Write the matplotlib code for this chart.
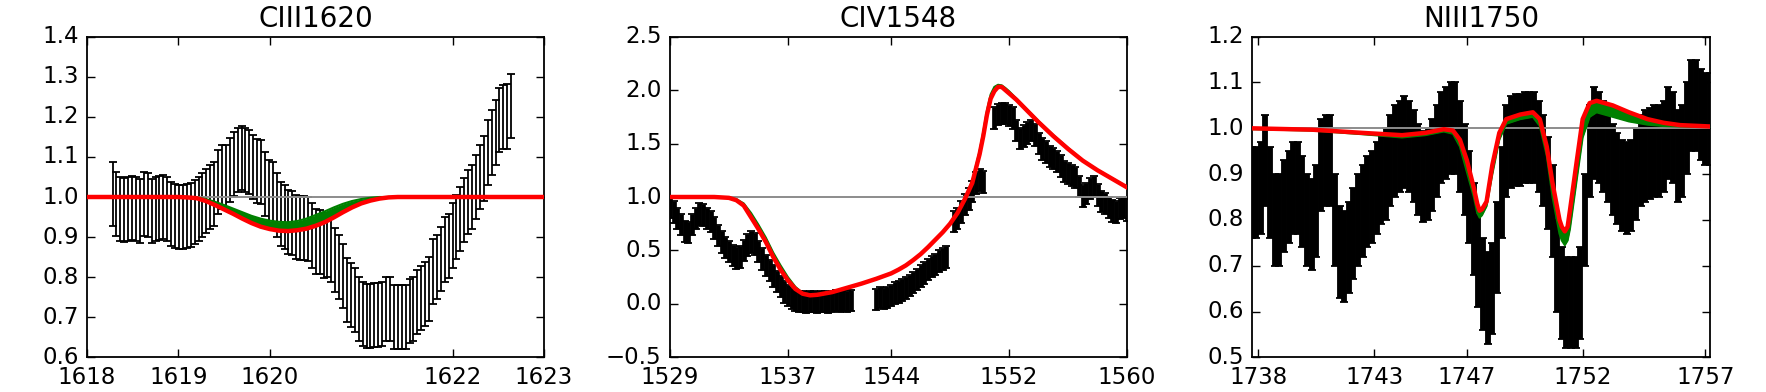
import numpy as np
import matplotlib
matplotlib.use('Agg')
import matplotlib.pyplot as plt
from matplotlib.ticker import MultipleLocator

plt.style.use('classic')
plt.rcParams['font.family'] = ['DejaVu Sans']
plt.rcParams['savefig.facecolor'] = 'white'
plt.rcParams['figure.facecolor'] = 'white'

nan = np.nan

# ---- CIII 1620 ----
ciii_start, ciii_step = 1618.28, 0.04275
ciii_flux = [1.008, 0.983, 0.969, 0.967, 0.969, 0.972, 0.970, 0.964, 0.983, 0.979,
             0.964, 0.969, 0.972, 0.975, 0.969, 0.958, 0.952, 0.950, 0.950, 0.952,
             0.955, 0.963, 0.970, 0.980, 0.989, 1.000, 1.008, 1.037, 1.050, 1.050,
             1.067, 1.083, 1.092, 1.098, 1.092, 1.088, 1.075, 1.065, 1.063, 1.033,
             1.013, 1.008, 0.979, 0.958, 0.950, 0.937, 0.936, 0.925, 0.923, 0.923,
             0.920, 0.904, 0.889, 0.888, 0.879, 0.880, 0.867, 0.842, 0.825, 0.802,
             0.767, 0.756, 0.744, 0.720, 0.708, 0.704, 0.704, 0.705, 0.705, 0.708,
             0.720, 0.720, 0.700, 0.700, 0.701, 0.700, 0.715, 0.720, 0.737, 0.747,
             0.758, 0.770, 0.814, 0.825, 0.846, 0.869, 0.877, 0.904, 0.925, 0.946,
             0.967, 0.988, 1.000, 1.025, 1.050, 1.071, 1.111, 1.136, 1.161, 1.192,
             1.200, 1.201, 1.228]
ciii_err = 0.08
ciii_mx = [1618.0, 1619.0, 1619.1, 1619.2, 1619.3, 1619.4, 1619.5, 1619.6, 1619.7, 1619.8,
           1619.9, 1620.0, 1620.1, 1620.2, 1620.3, 1620.4, 1620.5, 1620.6, 1620.7, 1620.8,
           1620.9, 1621.0, 1621.1, 1621.2, 1621.3, 1621.4, 1623.0]
ciii_red = [1.0, 1.0, 0.999, 0.997, 0.99, 0.98, 0.969, 0.958, 0.946, 0.935,
            0.926, 0.92, 0.916, 0.915, 0.917, 0.921, 0.928, 0.937, 0.949, 0.962,
            0.974, 0.984, 0.991, 0.996, 0.999, 1.0, 1.0]
ciii_green_hi = [1.0, 1.0, 1.0, 0.999, 0.995, 0.988, 0.980, 0.971, 0.962, 0.953,
                 0.946, 0.941, 0.938, 0.937, 0.940, 0.946, 0.955, 0.964, 0.974, 0.983,
                 0.990, 0.995, 0.998, 1.0, 1.0, 1.0, 1.0]

# ---- CIV 1548 ----
civ_start, civ_step = 1529.0, 0.25
civ_flux = [0.90, 0.86, 0.80, 0.74, 0.68, 0.67, 0.74, 0.80, 0.84, 0.83,
            0.80, 0.77, 0.71, 0.64, 0.58, 0.53, 0.49, 0.45, 0.43, 0.44,
            0.50, 0.55, 0.58, 0.56, 0.49, 0.42, 0.36, 0.31, 0.26, 0.21,
            0.16, 0.11, 0.08, 0.05, 0.03, 0.02, 0.02, 0.01, 0.02, 0.02,
            0.01, 0.02, 0.02, 0.01, 0.02, 0.03, 0.02, 0.03, 0.02, 0.03,
            nan, nan, nan, nan, nan, nan,
            0.04, 0.06, 0.05, 0.06, 0.08, 0.10, 0.11, 0.13, 0.15, 0.17,
            0.20, 0.23, 0.26, 0.29, 0.32, 0.35, 0.37, 0.40, 0.42, 0.44,
            nan,
            0.77, 0.80, 0.86, 0.93, 0.98, 1.05, 1.13, 1.16, 1.14,
            nan, nan,
            1.74, 1.77, 1.78, 1.78, 1.76, 1.74, 1.62, 1.55, 1.57, 1.60,
            1.62, 1.58, 1.50, 1.45, 1.42, 1.38, 1.36, 1.33, 1.29, 1.24,
            1.22, 1.20, 1.18, 1.10, 1.01, 1.03, 1.08, 1.10, 1.02, 0.96,
            0.94, 0.90, 0.87, 0.86, 0.89, 0.90, 0.88]
civ_err = 0.1
civ_mx = [1529.0, 1532.0, 1533.0, 1533.5, 1534.0, 1534.5, 1535.0, 1535.5, 1536.0, 1536.5,
          1537.0, 1537.5, 1538.0, 1538.5, 1539.0, 1540.0, 1541.0, 1542.0, 1543.0, 1544.0,
          1544.5, 1545.0, 1545.5, 1546.0, 1546.5, 1547.0, 1547.5, 1548.0, 1548.5, 1549.0,
          1549.5, 1550.0, 1550.25, 1550.5, 1550.75, 1551.0, 1551.25, 1551.5, 1551.75, 1552.0,
          1552.5, 1553.0, 1554.0, 1555.0, 1556.0, 1557.0, 1558.0, 1559.0, 1560.0]
civ_red = [1.0, 1.0, 0.992, 0.97, 0.92, 0.81, 0.70, 0.58, 0.44, 0.32,
           0.22, 0.14, 0.095, 0.08, 0.085, 0.11, 0.15, 0.19, 0.235, 0.285,
           0.32, 0.36, 0.41, 0.465, 0.53, 0.60, 0.67, 0.75, 0.85, 0.98,
           1.13, 1.40, 1.57, 1.77, 1.92, 1.99, 2.03, 2.03, 2.0, 1.97,
           1.91, 1.84, 1.70, 1.57, 1.45, 1.34, 1.25, 1.17, 1.09]
civ_green_hi = [1.0, 1.0, 0.995, 0.98, 0.94, 0.85, 0.74, 0.62, 0.48, 0.36,
                0.25, 0.16, 0.10, 0.085, 0.088, 0.112, 0.152, 0.19, 0.235, 0.285,
                0.32, 0.36, 0.41, 0.465, 0.53, 0.60, 0.67, 0.755, 0.86, 0.99,
                1.15, 1.43, 1.61, 1.81, 1.96, 2.03, 2.05, 2.045, 2.02, 1.99,
                1.92, 1.85, 1.71, 1.58, 1.46, 1.345, 1.255, 1.175, 1.095]

# ---- NIII 1750 ----
niii_start, niii_step = 1737.7, 0.2
niii_flux = [0.86, 0.86, 0.87, 0.93, 0.86, 0.80, 0.80, 0.83, 0.85, 0.87,
             0.87, 0.84, 0.80, 0.79, 0.82, 0.92, 0.93, 0.93, 0.80, 0.73,
             0.72, 0.74, 0.77, 0.80, 0.82, 0.84, 0.85, 0.87, 0.89, 0.90,
             0.93, 0.95, 0.96, 0.97, 0.96, 0.94, 0.91, 0.895, 0.90, 0.92,
             0.95, 0.98, 0.99, 1.00, 1.00, 0.96, 0.91, 0.85, 0.78, 0.71,
             0.66, 0.63, 0.65, 0.74, 0.86, 0.95, 0.97, 0.975, 0.975, 0.98,
             0.98, 0.98, 0.96, 0.93, 0.88, 0.82, 0.70, 0.64, 0.62, 0.62,
             0.62, 0.64, 0.80, 0.95, 0.99, 0.98, 0.96, 0.94, 0.91, 0.89,
             0.875, 0.87, 0.875, 0.90, 0.93, 0.94, 0.945, 0.95, 0.95, 0.96,
             0.99, 0.98, 0.94, 0.95, 1.00, 1.05, 1.05, 1.03, 1.02, 1.02]
niii_err = 0.1
niii_mx = [1737.72, 1740.3, 1742.5, 1744.2, 1745.2, 1746.0, 1746.4, 1746.7, 1747.0, 1747.3,
           1747.45, 1747.55, 1747.65, 1747.85, 1748.1, 1748.4, 1748.7, 1749.3, 1749.85, 1750.15,
           1750.45, 1750.7, 1751.0, 1751.1, 1751.23, 1751.35, 1751.45, 1751.75, 1752.0, 1752.3,
           1752.6, 1753.3, 1754.0, 1754.8, 1755.5, 1756.2, 1757.5]
niii_red = [1.0, 0.997, 0.99, 0.985, 0.99, 0.998, 0.995, 0.975, 0.93, 0.87,
            0.835, 0.82, 0.823, 0.84, 0.92, 0.99, 1.02, 1.03, 1.035, 1.02,
            0.96, 0.88, 0.80, 0.785, 0.775, 0.785, 0.82, 0.93, 1.02, 1.055,
            1.06, 1.05, 1.035, 1.02, 1.012, 1.007, 1.004]
niii_green_lo = [0.998, 0.995, 0.987, 0.98, 0.985, 0.993, 0.988, 0.96, 0.905, 0.85,
                 0.815, 0.805, 0.81, 0.83, 0.90, 0.975, 1.01, 1.02, 1.025, 1.005,
                 0.94, 0.85, 0.77, 0.755, 0.745, 0.755, 0.78, 0.89, 0.98, 1.025,
                 1.035, 1.025, 1.015, 1.008, 1.005, 1.004, 1.003]

panels = [
    dict(title='CIII1620', start=ciii_start, step=ciii_step, flux=ciii_flux, err=ciii_err,
         mx=ciii_mx, red=ciii_red, glo=ciii_red, ghi=ciii_green_hi,
         xlim=(1618, 1623), xticks=[1618, 1619, 1620, 1622, 1623],
         xlabels=['1618', '1619', '1620', '1622', '1623'],
         ylim=(0.6, 1.4), ystep=0.1, elw=1.3, left=87, width=457),
    dict(title='CIV1548', start=civ_start, step=civ_step, flux=civ_flux, err=civ_err,
         mx=civ_mx, red=civ_red, glo=civ_red, ghi=civ_green_hi,
         xlim=(1529, 1560), xticks=[1529, 1537, 1544, 1552, 1560],
         xlabels=['1529', '1537', '1544', '1552', '1560'],
         ylim=(-0.5, 2.5), ystep=0.5, elw=3.4, left=670, width=457),
    dict(title='NIII1750', start=niii_start, step=niii_step, flux=niii_flux, err=niii_err,
         mx=niii_mx, red=niii_red, glo=niii_green_lo, ghi=niii_red,
         xlim=(1737.72, 1757.5), xticks=[1738.0, 1743.0, 1747.0, 1752.0, 1757.3],
         xlabels=['1738', '1743', '1747', '1752', '1757'],
         ylim=(0.5, 1.2), ystep=0.1, elw=4.2, left=1252, width=458),
]

W, H = 1766, 392
fig = plt.figure(figsize=(W / 100, H / 100), dpi=100)

for p in panels:
    ax = fig.add_axes([p['left'] / W, 1 - 357.3 / H, p['width'] / W, (357.3 - 36.7) / H])
    flux = np.array(p['flux'], dtype=float)
    x = p['start'] + p['step'] * np.arange(len(flux))
    ax.errorbar(x, flux, yerr=p['err'], fmt='none', ecolor='k',
                elinewidth=p['elw'], capsize=3, capthick=1.3, zorder=2)
    ax.axhline(1.0, color='0.55', lw=1.4, zorder=3)
    ax.fill_between(p['mx'], p['glo'], p['ghi'], color='g', lw=0, zorder=4)
    ax.plot(p['mx'], p['glo'], color='g', lw=1.5, zorder=4)
    ax.plot(p['mx'], p['ghi'], color='g', lw=1.5, zorder=4)
    ax.plot(p['mx'], p['red'], color='r', lw=3.2, zorder=5)

    ax.set_xlim(p['xlim'])
    ax.set_ylim(p['ylim'])
    ax.set_xticks(p['xticks'])
    ax.set_xticklabels(p['xlabels'])
    ax.yaxis.set_major_locator(MultipleLocator(p['ystep']))
    ax.tick_params(labelsize=16.5, length=5.5, width=1.0, direction='in',
                   top=True, right=True, pad=6)
    for s in ax.spines.values():
        s.set_linewidth(1.3)
    ax.set_title(p['title'], fontsize=20, pad=7)

fig.savefig('out.png', dpi=100)
